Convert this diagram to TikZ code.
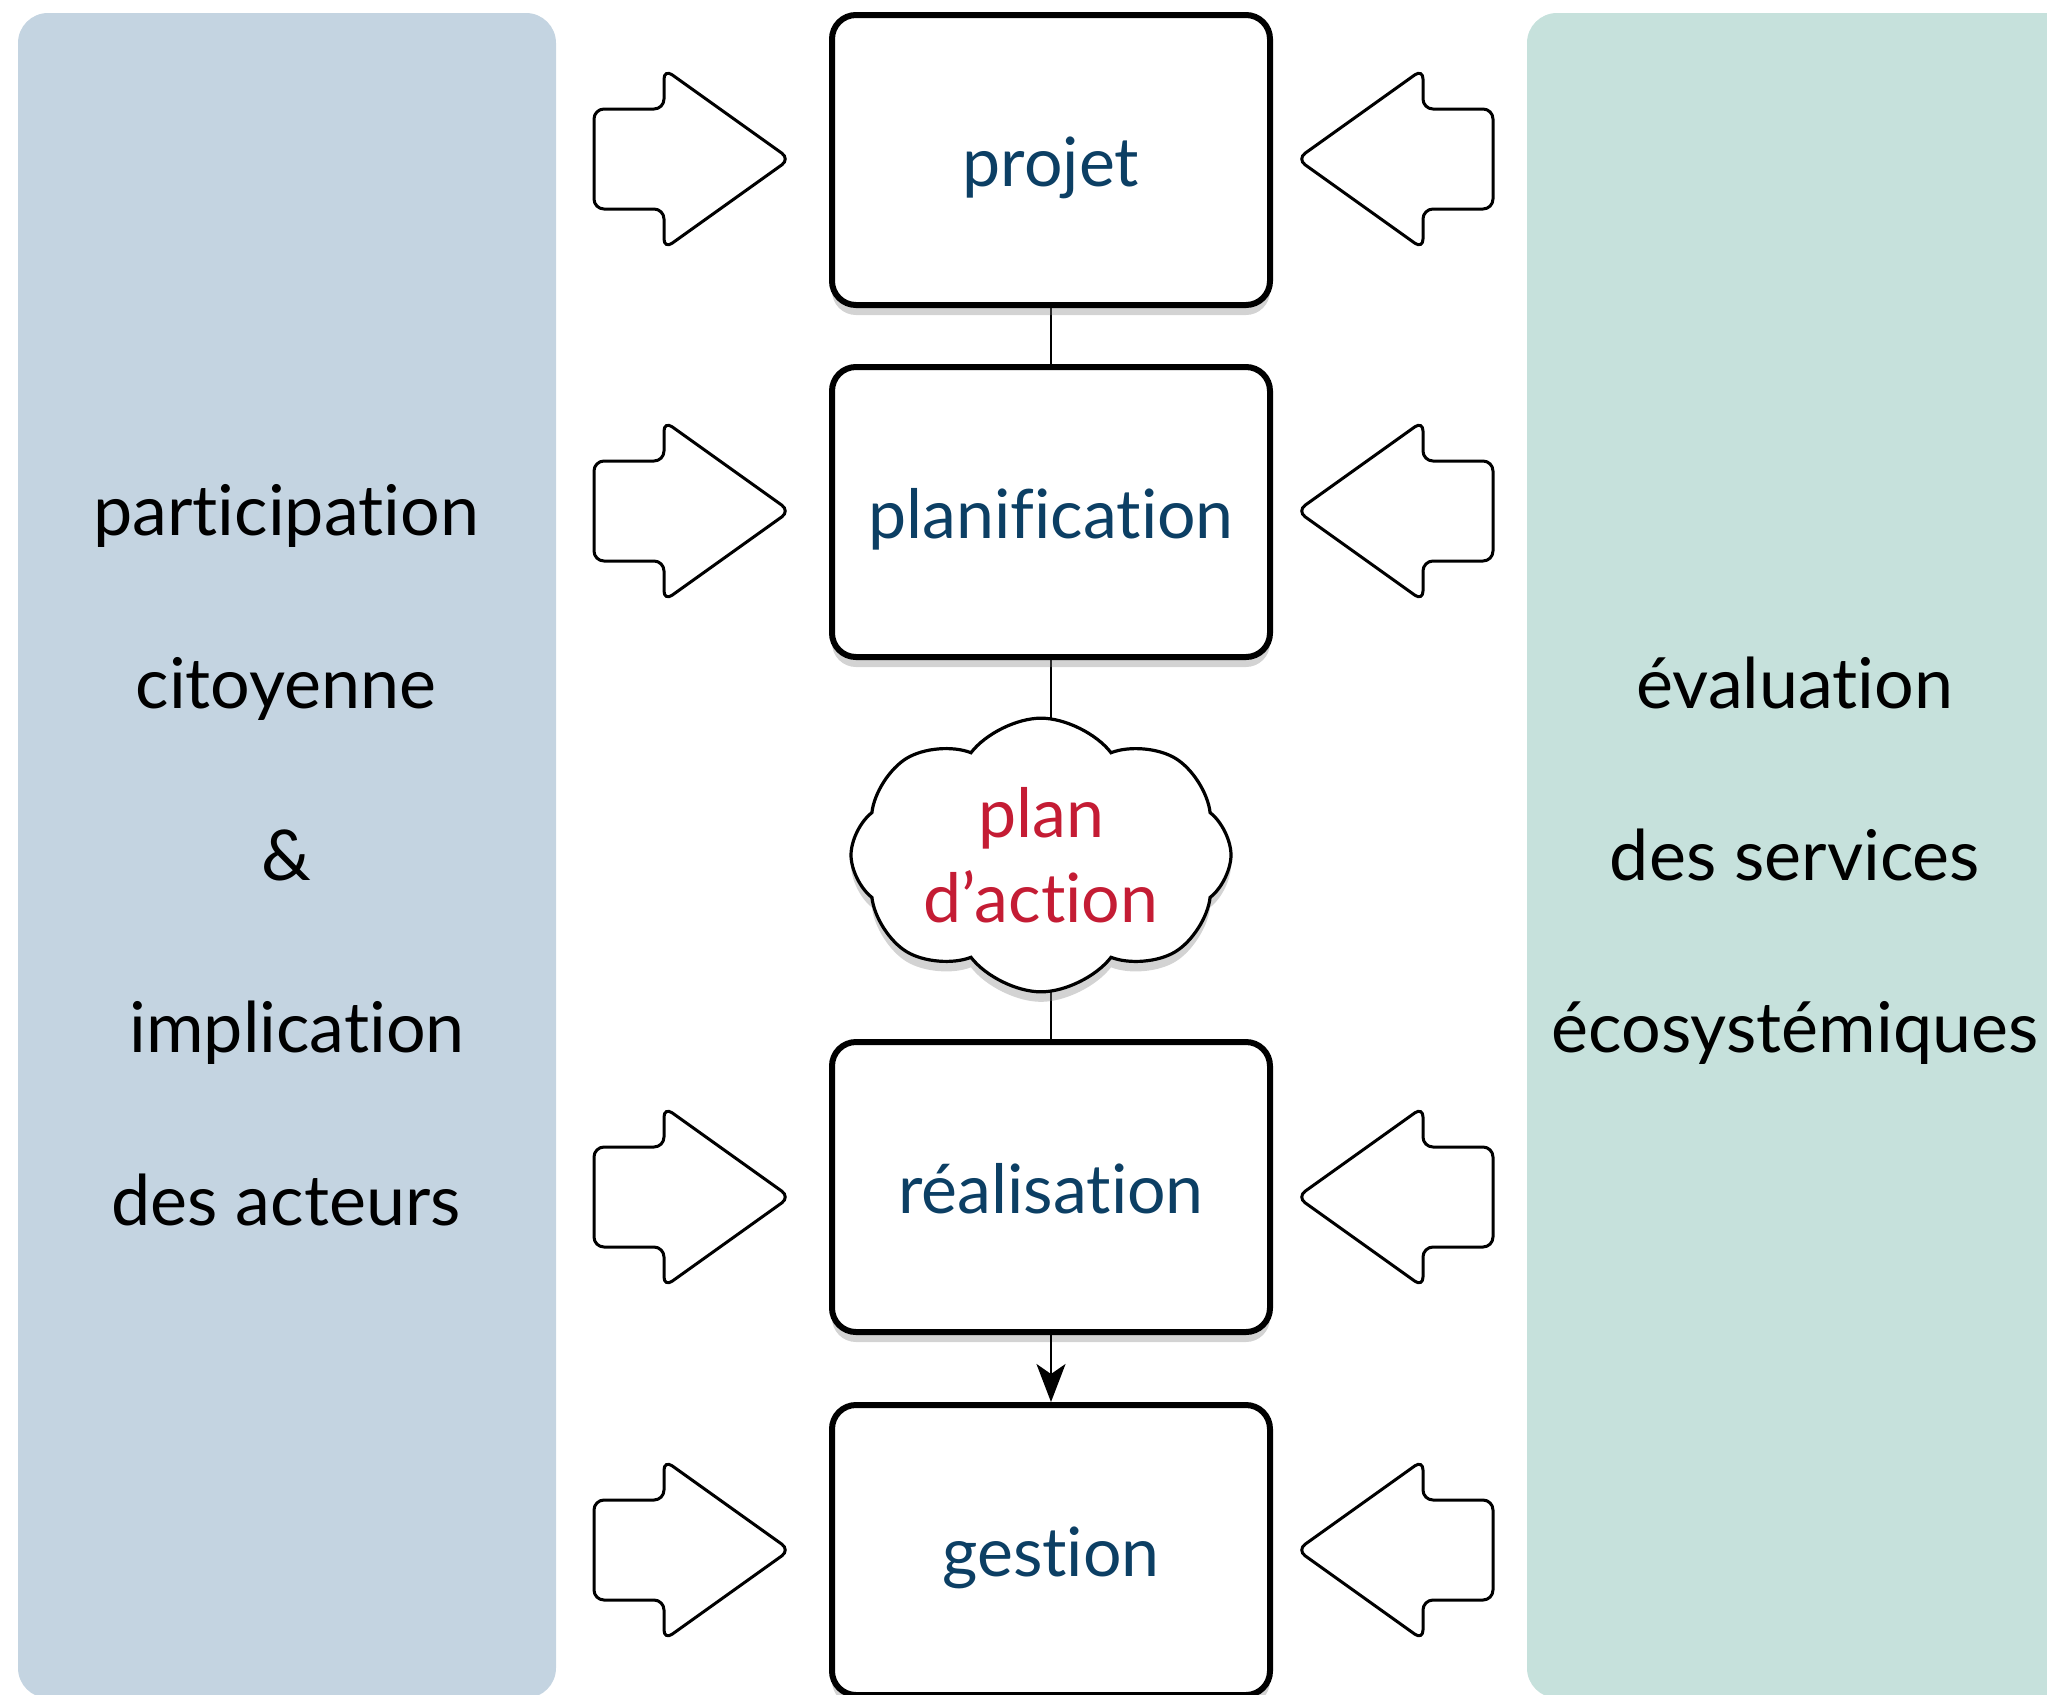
\documentclass[tikz,border=0pt]{standalone}
\usepackage{fontspec}
\setmainfont{Lato}[Ligatures=NoCommon]
\usetikzlibrary{shapes.symbols,shadows,arrows.meta,backgrounds}
\definecolor{panelL}{RGB}{196,212,225}
\definecolor{panelR}{RGB}{198,225,220}
\definecolor{stageblue}{RGB}{12,63,100}
\definecolor{planred}{RGB}{196,28,52}
\tikzset{
  panel/.style={rounded corners=15pt},
  stagebox/.style={draw, fill=white, line width=3pt, rounded corners=12pt,
    minimum width=219pt, minimum height=145pt, inner sep=0pt,
    text height=30pt, text depth=4pt, text=stageblue,
    font=\fontsize{34}{40}\selectfont,
    drop shadow={shadow xshift=0pt, shadow yshift=-5pt, opacity=0.35}},
  cloudbox/.style={draw, fill=white, line width=1.6pt, cloud, cloud puffs=8,
    cloud puff arc=105, aspect=1.45, minimum width=190pt, minimum height=128pt,
    inner sep=0pt, align=center, text=planred,
    font=\fontsize{34}{42.5}\selectfont,
    drop shadow={shadow xshift=0pt, shadow yshift=-5pt, opacity=0.35}},
  sidetext/.style={anchor=base, font=\fontsize{35}{40}\selectfont, text=black},
  link/.style={line width=1.3pt},
  blockarrow/.style={draw, fill=white, line width=1.5pt, rounded corners=5pt},
  inarrow/.pic={
    \path[blockarrow] (0,0) -- (-126,-90) -- (-126,-50) -- (-196,-50)
      -- (-196,50) -- (-126,50) -- (-126,90) -- cycle;
  }
}
\begin{document}
\begin{tikzpicture}[x=0.5pt,y=-0.5pt]
\useasboundingbox (0,0) rectangle (2047,1694);
\clip (0,0) rectangle (2047,1694);
% panels
\fill[panelL, panel] (18,13) rectangle (556,1698);
\fill[panelR, panel] (1527,13) rectangle (2090,1698);
% left texts
\node[sidetext] (l1) at (286,535) {participation};
\node[sidetext] (l2) at (286,708) {citoyenne};
\node[sidetext] (l3) at (286,880) {\&};
\node[sidetext] (l4) at (297,1052) {implication};
\node[sidetext] (l5) at (286,1225) {des acteurs};
% right texts
\node[sidetext] (r1) at (1795,708) {évaluation};
\node[sidetext] (r2) at (1795,880) {des services};
\node[sidetext] (r3) at (1795,1052) {écosystémiques};
% stages
\node[stagebox] (projet) at (1051,160) {projet};
\node[stagebox] (planif) at (1051,512) {planification};
\node[cloudbox] (cloud) at (1041,855) {plan\\d’action};
\node[stagebox] (real) at (1051,1187) {réalisation};
\node[stagebox] (gestion) at (1051,1550) {gestion};
% connectors
\begin{scope}[on background layer]
\draw[link] (projet.south) -- (planif.north);
\draw[link] (planif.south) -- (planif.south |- cloud.center);
\draw[link] (cloud.center -| real.north) -- (real.north);
\end{scope}
\draw[link, -{Stealth[length=19pt,width=14.5pt,inset=5pt]}] (real.south) -- (gestion.north);
% block arrows
\foreach \y in {159,511,1197,1550} {
  \pic at (790,\y) {inarrow};
  \pic[xscale=-1] at (1297,\y) {inarrow};
}
\end{tikzpicture}
\end{document}
